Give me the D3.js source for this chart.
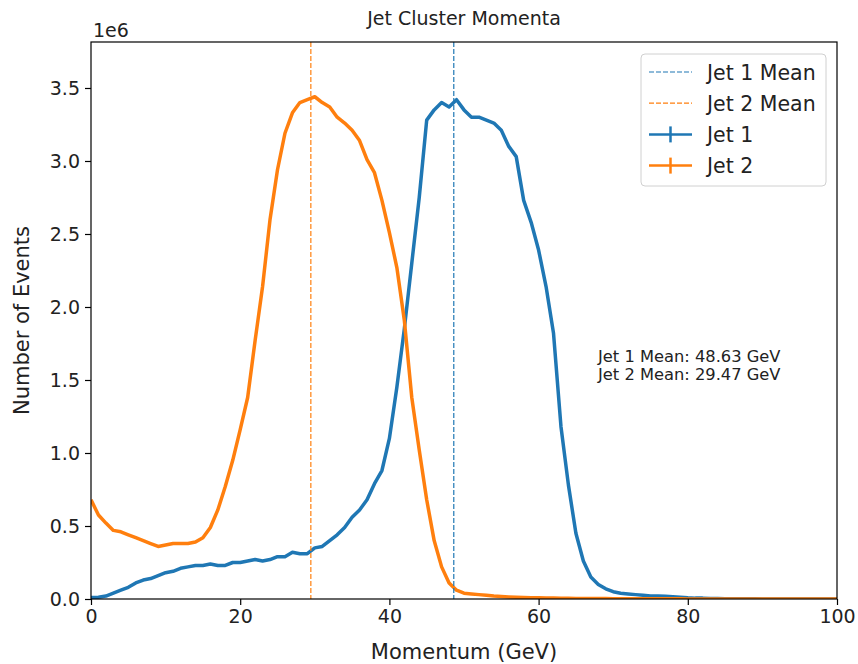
<!DOCTYPE html>
<html>
<head>
<meta charset="utf-8">
<script src="https://cdn.jsdelivr.net/npm/d3@7"></script>
<style>
  body { margin: 0; background: #fff; }
  text { font-family: "DejaVu Sans", sans-serif; fill: #222; }
</style>
</head>
<body>
<svg id="chart"></svg>
<script>
// momentum sample points (GeV)
const momentum = d3.range(0, 101, 1);

// event counts per point, in units of 1e6
const jet1 = [
  0.01, 0.012, 0.02, 0.04, 0.06, 0.08, 0.11, 0.13, 0.14, 0.16,
  0.18, 0.19, 0.21, 0.22, 0.23, 0.23, 0.24, 0.23, 0.23, 0.25,
  0.25, 0.26, 0.27, 0.26, 0.27, 0.29, 0.29, 0.32, 0.31, 0.31,
  0.35, 0.36, 0.40, 0.44, 0.49, 0.56, 0.61, 0.68, 0.79, 0.88,
  1.10, 1.45, 1.85, 2.30, 2.75, 3.28, 3.35, 3.40, 3.37, 3.42,
  3.35, 3.30, 3.30, 3.28, 3.26, 3.21, 3.10, 3.03, 2.73, 2.58,
  2.39, 2.14, 1.82, 1.18, 0.78, 0.45, 0.26, 0.15, 0.10, 0.07,
  0.05, 0.04, 0.035, 0.03, 0.025, 0.02, 0.02, 0.018, 0.015, 0.012,
  0.008, 0.006, 0.006, 0.004, 0.003, 0.002, 0.001, 0.001, 0.001, 0.001,
  0.0, 0.0, 0.0, 0.0, 0.0, 0.0, 0.0, 0.0, 0.0, 0.0, 0.0
];
const jet2 = [
  0.68, 0.575, 0.52, 0.47, 0.46, 0.44, 0.42, 0.40, 0.38, 0.36,
  0.37, 0.38, 0.38, 0.38, 0.39, 0.42, 0.49, 0.61, 0.77, 0.95,
  1.16, 1.38, 1.77, 2.14, 2.60, 2.94, 3.19, 3.33, 3.40, 3.42,
  3.44, 3.40, 3.37, 3.30, 3.26, 3.21, 3.14, 3.01, 2.92, 2.73,
  2.51, 2.27, 1.91, 1.38, 1.02, 0.68, 0.40, 0.22, 0.11, 0.06,
  0.04, 0.035, 0.03, 0.025, 0.02, 0.017, 0.014, 0.012, 0.010, 0.009,
  0.008, 0.007, 0.006, 0.005, 0.005, 0.004, 0.004, 0.003, 0.003, 0.003,
  0.002, 0.002, 0.002, 0.002, 0.001, 0.001, 0.001, 0.001, 0.001, 0.001,
  0.0, 0.0, 0.0, 0.0, 0.0, 0.0, 0.0, 0.0, 0.0, 0.0,
  0.0, 0.0, 0.0, 0.0, 0.0, 0.0, 0.0, 0.0, 0.0, 0.0, 0.0
];

const means = [48.63, 29.47];
const seriesNames = ["Jet 1", "Jet 2"];
const colors = ["#1f77b4", "#ff7f0e"];
const xTicks = [0, 20, 40, 60, 80, 100];
const yTicks = [0.0, 0.5, 1.0, 1.5, 2.0, 2.5, 3.0, 3.5];

// dimensions
const width = 858, height = 664;
const margin = {top: 42, bottom: 65, left: 91, right: 21};

const svg = d3.select("#chart")
    .attr("width", width)
    .attr("height", height);

const x = d3.scaleLinear()
    .domain([0, 100])
    .range([margin.left, width - margin.right]);

const y = d3.scaleLinear()
    .domain([0, 3.815])
    .range([height - margin.bottom, margin.top]);

// clip to plot area
svg.append("clipPath").attr("id", "clip")
  .append("rect")
    .attr("x", margin.left).attr("y", margin.top)
    .attr("width", width - margin.left - margin.right)
    .attr("height", height - margin.top - margin.bottom);

const plot = svg.append("g").attr("clip-path", "url(#clip)");

const line = d3.line()
    .x((d, i) => x(momentum[i]))
    .y(d => y(d));

[jet1, jet2].forEach(function(values, k) {
    plot.append("path")
        .datum(values)
        .attr("d", line)
        .attr("fill", "none")
        .attr("stroke", colors[k])
        .attr("stroke-width", 3.5)
        .attr("stroke-linejoin", "round");
});

// mean lines
plot.selectAll(".mean")
    .data(means)
    .enter().append("line")
    .attr("x1", d => x(d)).attr("x2", d => x(d))
    .attr("y1", margin.top).attr("y2", height - margin.bottom)
    .attr("stroke", (d, i) => colors[i])
    .attr("stroke-width", 1.2)
    .attr("stroke-dasharray", "5,2");

// axes
const fs = "19px";
const labelFs = "21px";
const xAxis = svg.append("g")
    .attr("transform", `translate(0,${height - margin.bottom})`)
    .call(d3.axisBottom(x).tickValues(xTicks).tickSize(6).tickPadding(5).tickFormat(d3.format("d")));

const yAxis = svg.append("g")
    .attr("transform", `translate(${margin.left},0)`)
    .call(d3.axisLeft(y).tickValues(yTicks).tickSize(6).tickPadding(5).tickFormat(d3.format(".1f")));

[xAxis, yAxis].forEach(function(a) {
    a.select(".domain").remove();
    a.selectAll("line").attr("stroke", "#000").attr("stroke-width", 1.2);
    a.selectAll("text").style("font-size", fs).style("font-family", "DejaVu Sans").attr("fill", "#222");
});

// frame
svg.append("rect")
    .attr("x", margin.left).attr("y", margin.top)
    .attr("width", width - margin.left - margin.right)
    .attr("height", height - margin.top - margin.bottom)
    .attr("fill", "none")
    .attr("stroke", "#000")
    .attr("stroke-width", 1.2);

// offset label
svg.append("text")
    .attr("x", margin.left + 2).attr("y", 37)
    .style("font-size", fs)
    .text("1e6");

// title + axis labels
svg.append("text")
    .attr("x", (margin.left + width - margin.right) / 2).attr("y", 25)
    .attr("text-anchor", "middle")
    .style("font-size", fs)
    .text("Jet Cluster Momenta");

svg.append("text")
    .attr("x", (margin.left + width - margin.right) / 2).attr("y", 659)
    .attr("text-anchor", "middle")
    .style("font-size", labelFs)
    .text("Momentum (GeV)");

svg.append("text")
    .attr("transform", `translate(29,${(margin.top + height - margin.bottom) / 2}) rotate(-90)`)
    .attr("text-anchor", "middle")
    .style("font-size", labelFs)
    .text("Number of Events");

// mean annotation
const notes = means.map((m, i) => `${seriesNames[i]} Mean: ${m.toFixed(2)} GeV`);
svg.selectAll(".note")
    .data(notes)
    .enter().append("text")
    .attr("x", 598)
    .attr("y", (d, i) => 362 + i * 18)
    .style("font-size", "16.3px")
    .text(d => d);

// legend
const legend = svg.append("g").attr("transform", "translate(641,54)");
legend.append("rect")
    .attr("width", 185).attr("height", 132)
    .attr("rx", 4)
    .attr("fill", "#fff").attr("fill-opacity", 0.8)
    .attr("stroke", "#d0d0d0");

const items = [
  {label: "Jet 1 Mean", color: colors[0], dashed: true},
  {label: "Jet 2 Mean", color: colors[1], dashed: true},
  {label: "Jet 1", color: colors[0], dashed: false},
  {label: "Jet 2", color: colors[1], dashed: false}
];

const rows = legend.selectAll(".item")
    .data(items)
    .enter().append("g")
    .attr("transform", (d, i) => `translate(0,${18 + i * 31.2})`);

rows.append("line")
    .attr("x1", 8).attr("x2", 51)
    .attr("stroke", d => d.color)
    .attr("stroke-width", d => d.dashed ? 1.2 : 2.5)
    .attr("stroke-dasharray", d => d.dashed ? "5,2" : null);

rows.filter(d => !d.dashed).append("line")
    .attr("x1", 29.5).attr("x2", 29.5)
    .attr("y1", -8).attr("y2", 8)
    .attr("stroke", d => d.color)
    .attr("stroke-width", 2.5);

rows.append("text")
    .attr("x", 66).attr("y", 7.5)
    .style("font-size", "20.5px")
    .text(d => d.label);
</script>
</body>
</html>
